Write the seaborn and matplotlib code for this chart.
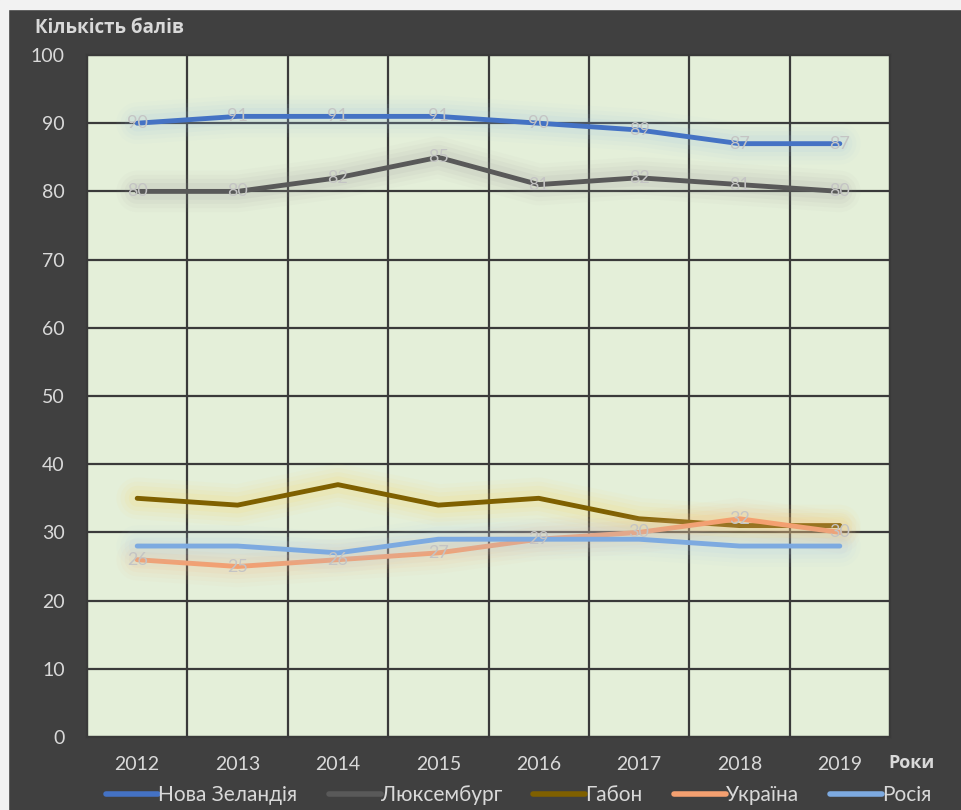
import numpy as np
import pandas as pd
import matplotlib
matplotlib.use("Agg")
import matplotlib.pyplot as plt
import matplotlib.patheffects as pe
import seaborn as sns

years = [2012, 2013, 2014, 2015, 2016, 2017, 2018, 2019]
countries = ["Нова Зеландія", "Люксембург", "Габон", "Україна", "Росія"]
nz = [90, 91, 91, 91, 90, 89, 87, 87]
lux = [80, 80, 82, 85, 81, 82, 81, 80]
gabon = [35, 34, 37, 34, 35, 32, 31, 31]
ukraine = [26, 25, 26, 27, 29, 30, 32, 30]
russia = [28, 28, 27, 29, 29, 29, 28, 28]

colors = ["#4472C4", "#595959", "#7F6000", "#F4A070", "#7DAAE0"]
glows = ["#9DC3E6", "#9A9A9A", "#FFD34D", "#F8B585", "#A9CBEF"]
labelled = ["Нова Зеландія", "Люксембург", "Україна"]

BG = "#404040"
TXT = "#D9D9D9"

sns.set_style("white")
plt.rcParams["font.family"] = ["Lato", "DejaVu Sans"]

df = pd.DataFrame({"Рік": years * 5,
                   "Бали": nz + lux + gabon + ukraine + russia,
                   "Країна": np.repeat(countries, len(years))})

fig = plt.figure(figsize=(9.61, 8.10), dpi=100, facecolor=BG)
# light margin on top and left, like the screenshot
fig.patches.append(plt.Rectangle((0, 0), 8 / 961, 1, transform=fig.transFigure,
                                 color="#F2F2F2", zorder=-10))
fig.patches.append(plt.Rectangle((0, 1 - 9 / 810), 1, 9 / 810, transform=fig.transFigure,
                                 color="#F2F2F2", zorder=-10))
ax = fig.add_axes([87 / 961, 1 - 737 / 810, (890 - 87) / 961, (737 - 55) / 810])
ax.set_facecolor("#E4EFD9")

sns.lineplot(data=df, x="Рік", y="Бали", hue="Країна", hue_order=countries,
             palette=colors, linewidth=3.5, ax=ax, legend=False, zorder=5)

# soft glow around each line
for line, g in zip(ax.get_lines(), glows):
    line.set_path_effects([
        pe.Stroke(linewidth=30, foreground=g, alpha=0.04),
        pe.Stroke(linewidth=24, foreground=g, alpha=0.05),
        pe.Stroke(linewidth=18, foreground=g, alpha=0.07),
        pe.Stroke(linewidth=12, foreground=g, alpha=0.09),
        pe.Normal(),
    ])
    line.set_solid_capstyle("round")

series = dict(zip(countries, [nz, lux, gabon, ukraine, russia]))
for name in labelled:
    for x, y in zip(years, series[name]):
        ax.text(x, y, str(y), ha="center", va="center", fontsize=13,
                color="#C4C4C4", zorder=6)

ax.set_xlim(2011.5, 2019.5)
ax.set_ylim(0, 100)
ax.set_xticks(years)
ax.set_xticklabels([str(y) for y in years])
ax.set_xticks(np.arange(2011.5, 2020, 1), minor=True)
ax.set_yticks(range(0, 101, 10))
ax.grid(False)
ax.grid(which="minor", axis="x", color="#3A3A3A", linewidth=1.6)
ax.grid(which="major", axis="y", color="#3A3A3A", linewidth=1.6)
ax.set_axisbelow(True)
ax.tick_params(axis="both", which="both", length=0, colors=TXT, labelsize=14)
ax.tick_params(axis="x", pad=14)
ax.tick_params(axis="y", pad=16)
for s in ax.spines.values():
    s.set_color("#3A3A3A")
    s.set_linewidth(1.6)
ax.set_xlabel("")
ax.set_ylabel("")

fig.text(35 / 961, 1 - 28 / 810, "Кількість балів", color=TXT, fontsize=13.5,
         fontweight="bold", family=["Open Sans", "DejaVu Sans"], va="center", ha="left")
fig.text(888 / 961, 1 - 763 / 810, "Роки", color=TXT, fontsize=13,
         fontweight="bold", family=["Open Sans", "DejaVu Sans"], va="center", ha="left")

handles = [plt.Line2D([], [], color=c, linewidth=4) for c in colors]
leg = fig.legend(handles, countries, loc="center", bbox_to_anchor=(0.54, 1 - 795 / 810),
                 ncol=5, frameon=False, fontsize=15, handlelength=2.5,
                 handletextpad=0.0, columnspacing=1.5, labelcolor=TXT)

fig.savefig("out.png", dpi=100, facecolor=fig.get_facecolor())
